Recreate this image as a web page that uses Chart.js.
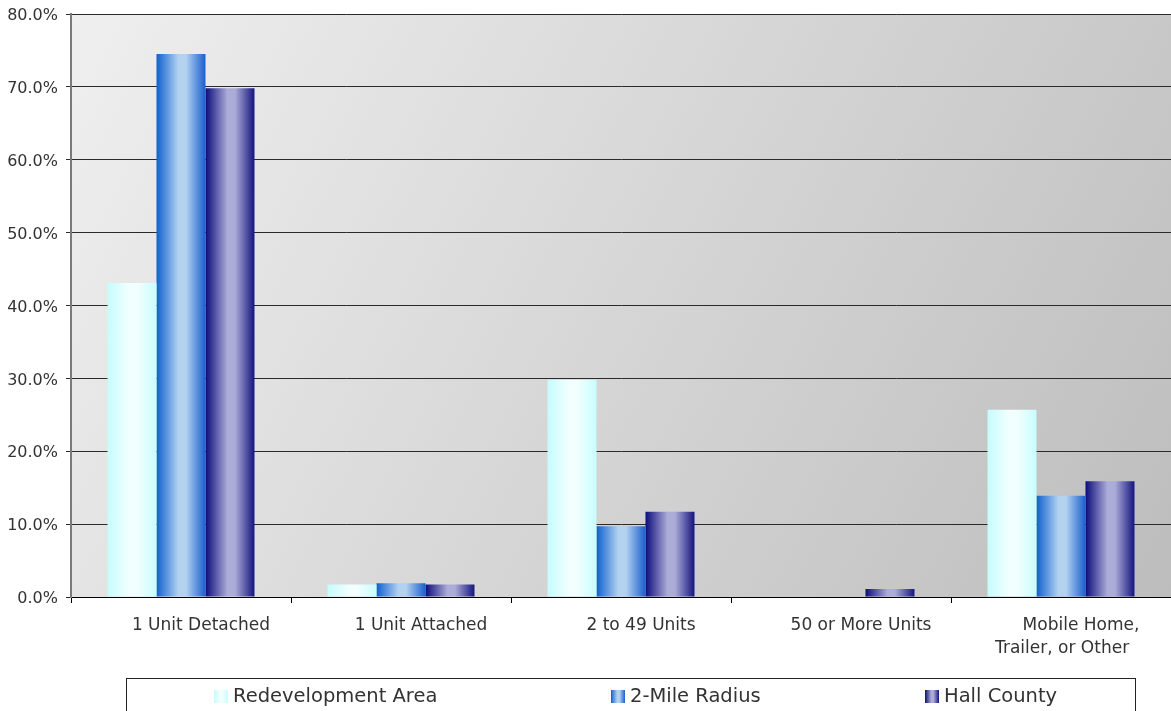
<!DOCTYPE html>
<html>
<head>
<meta charset="utf-8">
<script src="https://cdn.jsdelivr.net/npm/chart.js@4/dist/chart.umd.min.js"></script>
<style>
  html, body { margin: 0; padding: 0; background: #fff; }
  #wrap { position: relative; width: 1171px; height: 711px; overflow: hidden; }
  #c { display: block; }
  #legend {
    position: absolute; left: 126px; top: 678px; width: 1010px; height: 60px;
    border: 1px solid #222; border-bottom: none; box-sizing: border-box;
    font-family: "DejaVu Sans", sans-serif; font-size: 19.5px; color: #333;
  }
  .item { position: absolute; top: 5px; white-space: nowrap; }
  .sw { display: inline-block; width: 14px; height: 13px; vertical-align: -1px; margin-right: 5px; }
</style>
</head>
<body>
<div id="wrap">
  <canvas id="c" width="1171" height="711"></canvas>
  <div id="legend"></div>
</div>
<script>
// Housing units by structure type
const categories = ['1 Unit Detached', '1 Unit Attached', '2 to 49 Units', '50 or More Units', ['Mobile Home,', 'Trailer, or Other\u00a0\u00a0\u00a0\u00a0\u00a0\u00a0\u00a0']];
const seriesNames = ['Redevelopment Area', '2-Mile Radius', 'Hall County'];
const redevelopment = [43.1, 1.7, 29.8, 0, 25.7];
const twoMileRadius = [74.5, 1.9, 9.7, 0, 13.9];
const hallCounty = [69.8, 1.7, 11.7, 1.1, 15.9];
const yTicks = [0, 10, 20, 30, 40, 50, 60, 70, 80];

// edge / centre colours of each bar's horizontal shading
const shades = [
  ['#c6fcfc', '#f2ffff', '#c8fdfd'],
  ['#1060d0', '#b2d2f0', '#1a5ed0'],
  ['#0c0c7c', '#acacd8', '#141480']
];

function barGradient(ctx, x0, x1, s) {
  const g = ctx.createLinearGradient(x0, 0, x1, 0);
  g.addColorStop(0, s[0]);
  g.addColorStop(0.45, s[1]);
  g.addColorStop(0.6, s[1]);
  g.addColorStop(1, s[2]);
  return g;
}

const shading = {
  id: 'shading',
  beforeDraw(chart) {
    const { ctx, chartArea: a } = chart;
    const g = ctx.createLinearGradient(a.left, a.top, a.right, a.bottom);
    g.addColorStop(0, '#efefef');
    g.addColorStop(1, '#bdbdbd');
    ctx.save();
    ctx.fillStyle = g;
    ctx.fillRect(a.left, a.top, a.right - a.left, a.bottom - a.top);
    ctx.restore();
  },
  beforeDatasetsDraw(chart) {
    const ctx = chart.ctx;
    chart.data.datasets.forEach((ds, i) => {
      chart.getDatasetMeta(i).data.forEach(el => {
        const half = el.width / 2;
        el.options.backgroundColor = barGradient(ctx, el.x - half, el.x + half, shades[i]);
      });
    });
  }
};

const datasets = [redevelopment, twoMileRadius, hallCounty].map((vals, i) => ({
  label: seriesNames[i],
  data: vals,
  backgroundColor: () => shades[i][1],
  borderWidth: 0,
  categoryPercentage: 0.668,
  barPercentage: 1.0
}));

new Chart(document.getElementById('c'), {
  type: 'bar',
  data: { labels: categories, datasets },
  plugins: [shading],
  options: {
    responsive: false,
    animation: false,
    layout: { padding: { top: 14, right: 0, bottom: 33, left: 0 } },
    plugins: { legend: { display: false }, tooltip: { enabled: false } },
    scales: {
      x: {
        grid: { display: true, drawOnChartArea: false, drawTicks: true, tickLength: 6, color: '#000', offset: true },
        border: { color: '#000', width: 1 },
        ticks: {
          color: '#333', padding: 11, maxRotation: 0, autoSkip: false, labelOffset: 20,
          font: { family: 'DejaVu Sans', size: 17, lineHeight: 1.35 }
        },
        afterFit(scale) { scale.height = 81; scale.paddingLeft = 0; scale.paddingRight = 0; }
      },
      y: {
        min: 0, max: 80,
        afterBuildTicks(scale) { scale.ticks = yTicks.map(v => ({ value: v })); },
        grid: { color: '#2a2a2a', lineWidth: 1, tickLength: 5, drawTicks: true },
        border: { color: '#7a7a7a', width: 2 },
        ticks: {
          color: '#333', padding: 8, labelOffset: 2,
          font: { family: 'DejaVu Sans', size: 16 },
          callback: v => v.toFixed(1) + '%'
        },
        afterFit(scale) { scale.width = 71; scale.paddingTop = 0; scale.paddingBottom = 0; }
      }
    }
  }
});

// legend entries
const legend = document.getElementById('legend');
const itemLeft = [87, 484, 798];
seriesNames.forEach((name, i) => {
  const it = document.createElement('div');
  it.className = 'item';
  it.style.left = itemLeft[i] + 'px';
  const sw = document.createElement('span');
  sw.className = 'sw';
  const s = shades[i];
  sw.style.background = `linear-gradient(to right, ${s[0]}, ${s[1]} 45%, ${s[1]} 60%, ${s[2]})`;
  it.appendChild(sw);
  it.appendChild(document.createTextNode(name));
  legend.appendChild(it);
});
</script>
</body>
</html>
